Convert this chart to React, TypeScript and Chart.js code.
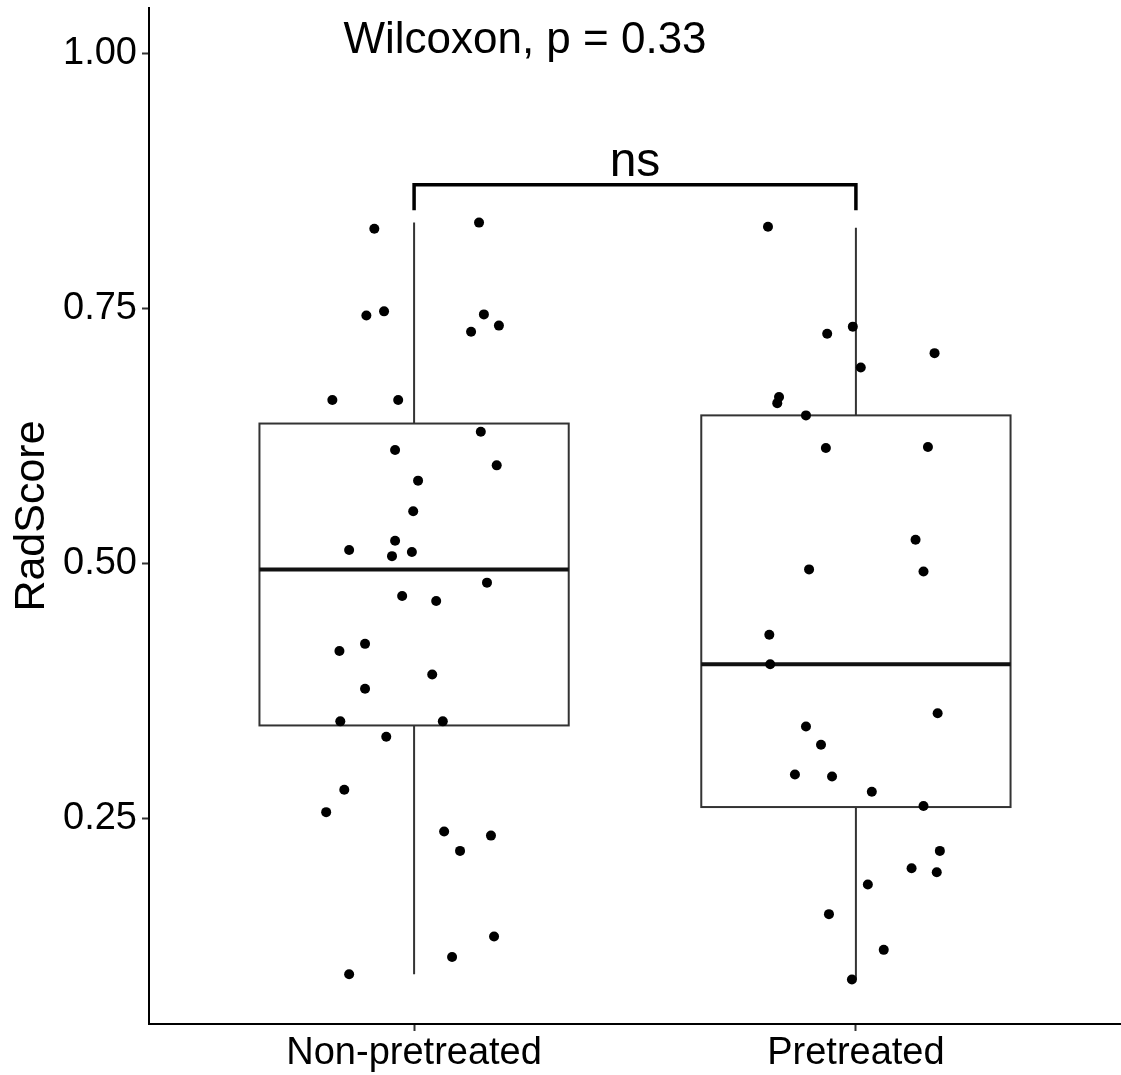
import React, { useEffect, useRef } from 'react';
import { Chart, registerables } from 'chart.js';

Chart.register(...registerables);

const FONT = '"Liberation Sans", Arial, sans-serif';

// Categories and ticks
const categories = ['Non-pretreated', 'Pretreated'];
const yTickValues = [0.25, 0.5, 0.75, 1.0];
const yMin = 0.0483;
const yMax = 1.0444;
const xMin = 0.4;
const xMax = 2.6;

// Jittered points: Non-pretreated
const nonPretreatedX = [
  0.910, 1.147, 0.892, 0.932, 1.158, 1.192, 1.129, 0.815, 0.964, 1.151,
  0.957, 1.187, 1.009, 0.998, 0.957, 0.853, 0.950, 0.995, 1.165, 0.973,
  1.050, 0.889, 0.831, 1.041, 0.889, 0.833, 1.065, 0.937, 0.842, 0.801,
  1.068, 1.174, 1.104, 1.181, 1.086, 0.853,
];
const nonPretreatedScore = [
  0.828, 0.834, 0.743, 0.747, 0.744, 0.733, 0.727, 0.660, 0.660, 0.629,
  0.611, 0.596, 0.581, 0.551, 0.522, 0.513, 0.507, 0.511, 0.481, 0.468,
  0.463, 0.421, 0.414, 0.391, 0.377, 0.345, 0.345, 0.330, 0.278, 0.256,
  0.237, 0.233, 0.218, 0.134, 0.114, 0.097,
];

// Jittered points: Pretreated
const pretreatedX = [
  1.801, 1.935, 1.993, 2.178, 2.011, 1.826, 1.822, 1.887, 1.932, 2.163,
  2.135, 1.894, 2.153, 1.804, 1.806, 2.185, 1.887, 1.921, 1.862, 1.946,
  2.036, 2.153, 2.190, 2.126, 2.183, 2.027, 1.939, 2.063, 1.991,
];
const pretreatedScore = [
  0.830, 0.725, 0.732, 0.706, 0.692, 0.663, 0.657, 0.645, 0.613, 0.614,
  0.523, 0.494, 0.492, 0.430, 0.401, 0.353, 0.340, 0.322, 0.293, 0.291,
  0.276, 0.262, 0.218, 0.201, 0.197, 0.185, 0.156, 0.121, 0.092,
];

// Box statistics per category
const boxLower = [0.097, 0.092];
const boxQ1 = [0.341, 0.261];
const boxMedian = [0.494, 0.401];
const boxQ3 = [0.637, 0.645];
const boxUpper = [0.834, 0.829];
const boxWidth = 0.70;

// Annotations
const testLabel = 'Wilcoxon, p = 0.33';
const testLabelX = 0.840;
const testLabelY = 1.0;
const sigLabel = 'ns';
const sigLabelY = 0.880;
const bracketTop = 0.871;
const bracketTip = 0.846;

const boxPlugin = {
  id: 'boxPlugin',
  beforeDatasetsDraw(chart: any) {
    const { ctx, scales } = chart;
    const xs = scales.x;
    const ys = scales.y;
    ctx.save();
    ctx.strokeStyle = '#333333';
    ctx.lineCap = 'butt';
    for (let i = 0; i < categories.length; i++) {
      const c = i + 1;
      const xl = xs.getPixelForValue(c - boxWidth / 2);
      const xr = xs.getPixelForValue(c + boxWidth / 2);
      const xc = xs.getPixelForValue(c);
      const yq1 = ys.getPixelForValue(boxQ1[i]);
      const yq3 = ys.getPixelForValue(boxQ3[i]);
      const ymed = ys.getPixelForValue(boxMedian[i]);
      const ylo = ys.getPixelForValue(boxLower[i]);
      const yhi = ys.getPixelForValue(boxUpper[i]);
      ctx.lineWidth = 2;
      // whiskers
      ctx.beginPath();
      ctx.moveTo(xc, yq3);
      ctx.lineTo(xc, yhi);
      ctx.moveTo(xc, yq1);
      ctx.lineTo(xc, ylo);
      ctx.stroke();
      // box
      ctx.fillStyle = '#ffffff';
      ctx.fillRect(xl, yq3, xr - xl, yq1 - yq3);
      ctx.strokeRect(xl, yq3, xr - xl, yq1 - yq3);
      // median
      ctx.lineWidth = 4;
      ctx.strokeStyle = '#111111';
      ctx.beginPath();
      ctx.moveTo(xl, ymed);
      ctx.lineTo(xr, ymed);
      ctx.stroke();
      ctx.strokeStyle = '#333333';
    }
    ctx.restore();
  },
  afterDraw(chart: any) {
    const { ctx, scales } = chart;
    const xs = scales.x;
    const ys = scales.y;
    ctx.save();
    // bracket
    const x1 = xs.getPixelForValue(1);
    const x2 = xs.getPixelForValue(2);
    const yt = ys.getPixelForValue(bracketTop);
    const yb = ys.getPixelForValue(bracketTip);
    ctx.strokeStyle = '#000000';
    ctx.lineWidth = 3.5;
    ctx.lineJoin = 'miter';
    ctx.beginPath();
    ctx.moveTo(x1, yb);
    ctx.lineTo(x1, yt);
    ctx.lineTo(x2, yt);
    ctx.lineTo(x2, yb);
    ctx.stroke();
    // ns label
    ctx.fillStyle = '#000000';
    ctx.font = `48px ${FONT}`;
    ctx.textAlign = 'center';
    ctx.textBaseline = 'alphabetic';
    ctx.fillText(sigLabel, xs.getPixelForValue(1.5), ys.getPixelForValue(sigLabelY));
    // test label
    ctx.font = `44px ${FONT}`;
    ctx.textAlign = 'left';
    ctx.fillText(testLabel, xs.getPixelForValue(testLabelX), ys.getPixelForValue(testLabelY));
    ctx.restore();
  },
};

export default function App() {
  const canvasRef = useRef<HTMLCanvasElement | null>(null);

  useEffect(() => {
    document.body.style.margin = '0';
    const canvas = canvasRef.current;
    if (!canvas) return;
    const chart = new Chart(canvas, {
      type: 'scatter',
      data: {
        datasets: [
          {
            label: categories[0],
            data: nonPretreatedX.map((x, i) => ({ x, y: nonPretreatedScore[i] })),
            backgroundColor: '#000000',
            borderWidth: 0,
            pointRadius: 5,
          },
          {
            label: categories[1],
            data: pretreatedX.map((x, i) => ({ x, y: pretreatedScore[i] })),
            backgroundColor: '#000000',
            borderWidth: 0,
            pointRadius: 5,
          },
        ],
      },
      options: {
        animation: false,
        responsive: false,
        maintainAspectRatio: false,
        devicePixelRatio: 1,
        layout: { autoPadding: false, padding: { top: 8, left: 0, right: 0, bottom: 0 } },
        plugins: {
          legend: { display: false },
          tooltip: { enabled: false },
        },
        scales: {
          x: {
            type: 'linear',
            min: xMin,
            max: xMax,
            afterBuildTicks: (scale: any) => {
              scale.ticks = categories.map((_, i) => ({ value: i + 1 }));
            },
            afterFit: (scale: any) => {
              scale.height = 51;
              scale.paddingLeft = 0;
              scale.paddingRight = 0;
              scale.paddingTop = 0;
              scale.paddingBottom = 0;
            },
            ticks: {
              callback: (v: any) => categories[Math.round(Number(v)) - 1] ?? '',
              font: { size: 38, family: FONT },
              color: '#000000',
              padding: 0,
              maxRotation: 0,
              autoSkip: false,
            },
            grid: {
              display: true,
              drawOnChartArea: false,
              drawTicks: true,
              tickLength: 7,
              tickWidth: 2,
              tickColor: '#333333',
            },
            border: { display: true, color: '#000000', width: 2 },
          },
          y: {
            type: 'linear',
            min: yMin,
            max: yMax,
            afterBuildTicks: (scale: any) => {
              scale.ticks = yTickValues.map((v) => ({ value: v }));
            },
            afterFit: (scale: any) => {
              scale.width = 149;
              scale.paddingLeft = 0;
              scale.paddingRight = 0;
              scale.paddingTop = 0;
              scale.paddingBottom = 0;
            },
            ticks: {
              callback: (v: any) => Number(v).toFixed(2),
              font: { size: 38, family: FONT },
              color: '#000000',
              padding: 5,
              autoSkip: false,
            },
            grid: {
              display: true,
              drawOnChartArea: false,
              drawTicks: true,
              tickLength: 7,
              tickWidth: 2,
              tickColor: '#333333',
            },
            border: { display: true, color: '#000000', width: 2 },
            title: {
              display: true,
              text: 'RadScore',
              font: { size: 43, family: FONT },
              color: '#000000',
              padding: { top: 6, bottom: 0 },
            },
          },
        },
      },
      plugins: [boxPlugin],
    });
    return () => chart.destroy();
  }, []);

  return (
    <div style={{ width: 1121, height: 1075 }}>
      <canvas ref={canvasRef} width={1121} height={1075} style={{ display: 'block', width: 1121, height: 1075 }} />
    </div>
  );
}
